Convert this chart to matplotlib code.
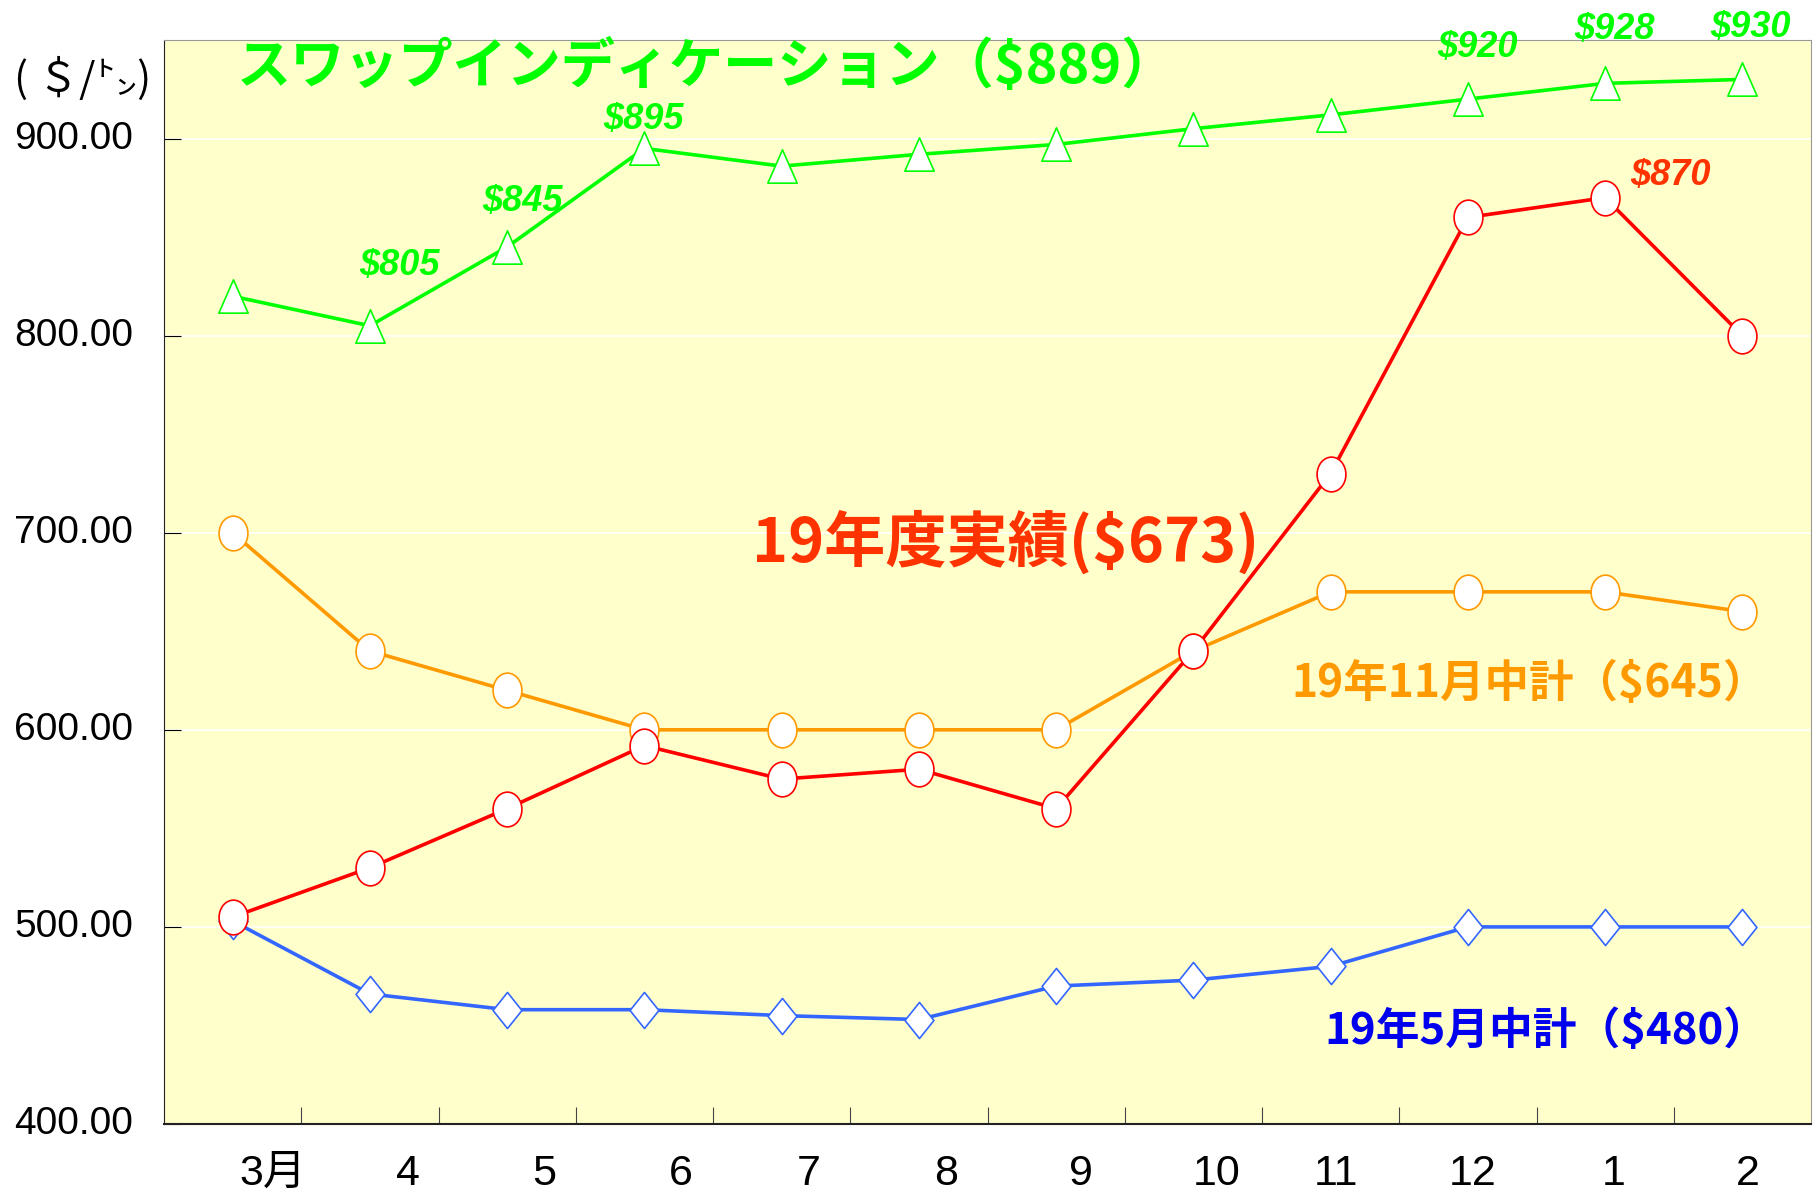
import matplotlib
matplotlib.use("Agg")
import matplotlib.pyplot as plt
from matplotlib.path import Path
from matplotlib.transforms import Affine2D, blended_transform_factory

# data
months = ['3月', '4', '5', '6', '7', '8', '9', '10', '11', '12', '1', '2']
swap = [820, 805, 845, 895, 886, 892, 897, 905, 912, 920, 928, 930]
actual = [505, 530, 560, 592, 575, 580, 560, 640, 730, 860, 870, 800]
plan_nov = [700, 640, 620, 600, 600, 600, 600, 640, 670, 670, 670, 660]
plan_may = [503, 466, 458, 458, 455, 453, 470, 473, 480, 500, 500, 500]
swap_labeled = [1, 2, 3, 9, 10, 11]
actual_labeled = [10]
yticks = [400, 500, 600, 700, 800, 900]

JP = ['Noto Sans CJK JP', 'DejaVu Sans']
NUM = ['Liberation Sans', 'Noto Sans CJK JP', 'DejaVu Sans']

GREEN = '#00FF00'
RED = '#FF0000'
RED_TXT = '#FF3300'
ORANGE = '#FF9900'
BLUE = '#3366FF'

# tall markers
ellipse = Path.unit_circle().transformed(Affine2D().scale(0.83, 1.0))
tri = Path([(-0.44, -0.5), (0.44, -0.5), (0, 0.5), (-0.44, -0.5)],
           [Path.MOVETO, Path.LINETO, Path.LINETO, Path.CLOSEPOLY])
diam = Path([(0, 0.5), (0.4, 0), (0, -0.5), (-0.4, 0), (0, 0.5)],
            [Path.MOVETO, Path.LINETO, Path.LINETO, Path.LINETO, Path.CLOSEPOLY])

fig = plt.figure(figsize=(18.13, 11.96), dpi=100)
ax = fig.add_axes([164/1813, 1-1124/1196, (1811-164)/1813, (1124-40)/1196])
ax.set_facecolor('#FFFFCC')

x = list(range(len(months)))
ax.plot(x, plan_may, color=BLUE, lw=2.6, marker=diam, ms=26,
        mfc='white', mec=BLUE, mew=1.2, zorder=3)
ax.plot(x, plan_nov, color=ORANGE, lw=2.6, marker=ellipse, ms=25,
        mfc='white', mec=ORANGE, mew=1.2, zorder=4)
ax.plot(x, actual, color=RED, lw=2.6, marker=ellipse, ms=25,
        mfc='white', mec=RED, mew=1.2, zorder=5)
ax.plot(x, swap, color=GREEN, lw=2.6, marker=tri, ms=24,
        mfc='white', mec=GREEN, mew=1.2, zorder=6)

ax.set_xlim(-0.5, len(months) - 0.5)
ax.set_ylim(400, 950)
for v in yticks[1:]:
    ax.axhline(v, color='white', lw=1.2, zorder=1)

# axes look
for s in ['top', 'right']:
    ax.spines[s].set_color('#999999')
for s in ['left', 'bottom']:
    ax.spines[s].set_color('#222222')
ax.spines['bottom'].set_linewidth(1.5)
ax.set_yticks(yticks)
ax.set_yticklabels([])
ax.tick_params(axis='y', direction='in', length=12)
ax.set_xticks([i + 0.5 for i in x[:-1]])
ax.set_xticklabels([])
ax.tick_params(axis='x', direction='in', length=12, color='#444444')

# y labels, left aligned at the figure edge
ytrans = blended_transform_factory(fig.transFigure, ax.transData)
for v in yticks:
    ax.text(14/1813, v, '%.2f' % v, transform=ytrans, ha='left', va='center',
            fontsize=28, family=NUM, clip_on=False)

# month labels, shifted a bit to the right like the original
shifts = [40, 38, 37, 36, 27, 27, 25, 23, 5, 5, 9, 5]
for i, m in enumerate(months):
    ax.annotate(m, xy=(i, 0), xycoords=('data', 'axes fraction'),
                xytext=(shifts[i], -50), textcoords='offset pixels',
                ha='center', va='center', fontsize=31, family=NUM,
                annotation_clip=False)

# value labels
offs_swap = {1: (30, 60), 2: (15, 45), 3: (-1, 29), 9: (10, 52), 10: (9, 54), 11: (8, 52)}
for i in swap_labeled:
    ax.annotate('$%d' % swap[i], xy=(i, swap[i]), xytext=offs_swap[i],
                textcoords='offset pixels', ha='center', va='center',
                color=GREEN, fontsize=26, fontweight='bold', style='italic',
                family=NUM, zorder=7, annotation_clip=False)
for i in actual_labeled:
    ax.annotate('$%d' % actual[i], xy=(i, actual[i]), xytext=(65, 22),
                textcoords='offset pixels', ha='center', va='center',
                color=RED_TXT, fontsize=26, fontweight='bold', style='italic',
                family=NUM, zorder=7)

# series titles
ax.text(3.45, 936, 'スワップインディケーション（$889）', color=GREEN,
        fontsize=39, fontweight='bold', family=JP, ha='center', va='center', zorder=7)
ax.text(5.63, 695, '19年度実績($673)', color=RED_TXT,
        fontsize=44, fontweight='bold', family=JP, ha='center', va='center', zorder=7)
ax.text(9.45, 623, '19年11月中計（$645）', color=ORANGE,
        fontsize=32, fontweight='bold', family=JP, ha='center', va='center', zorder=7)
ax.text(9.57, 447, '19年5月中計（$480）', color='#0000EE',
        fontsize=31.5, fontweight='bold', family=JP, ha='center', va='center', zorder=7)

fig.text(14/1813, 1-79/1196, '( ＄/㌧)', fontsize=30, family=JP,
         ha='left', va='center')

fig.savefig('out.png', dpi=100)
